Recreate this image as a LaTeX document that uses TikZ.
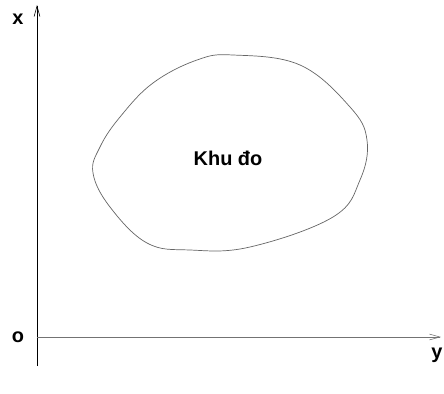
\documentclass[tikz,border=0pt]{standalone}
\usepackage{fontspec}
\setmainfont{Liberation Sans}
\usetikzlibrary{arrows.meta, positioning}

\begin{document}
\begin{tikzpicture}[
    x=0.03cm, y=-0.03cm,
    axis/.style={draw=black!55, line width=0.6pt,
        -{Straight Barb[length=9pt, width=5pt, line width=0.5pt]}},
    axislabel/.style={font=\bfseries\fontsize{17}{17}\selectfont, inner sep=0pt},
    region/.style={draw=black!60, line width=0.6pt},
    regionlabel/.style={font=\bfseries\fontsize{17}{17}\selectfont, inner sep=0pt}
]
\useasboundingbox (0,0) rectangle (444,394);

% 1. Axes (origin and the two ends)
\coordinate (origin) at (37,337);
\coordinate (xend) at (37,5);
\coordinate (xstart) at (37,366);
\coordinate (yend) at (441,337);

\draw[axis, draw=black] (xstart) -- (xend);
\draw[axis] (origin) -- (yend);

% 2. Axis labels
\node[axislabel] (xlabel) at (18,19) {x};
\node[axislabel] (olabel) at (18,337) {o};
\node[axislabel] (ylabel) at (437,355) {y};

% 3. The region
\draw[region] plot[smooth cycle, tension=0.65] coordinates {
    (93,173) (110,207) (147,243) (190,250) (250,247) (333,217)
    (360,180) (367,140) (350,107) (300,65) (233,55) (197,60)
    (153,83) (120,117) (100,147)};

\node[regionlabel] (area) at (228,158) {Khu đo};

\end{tikzpicture}
\end{document}
